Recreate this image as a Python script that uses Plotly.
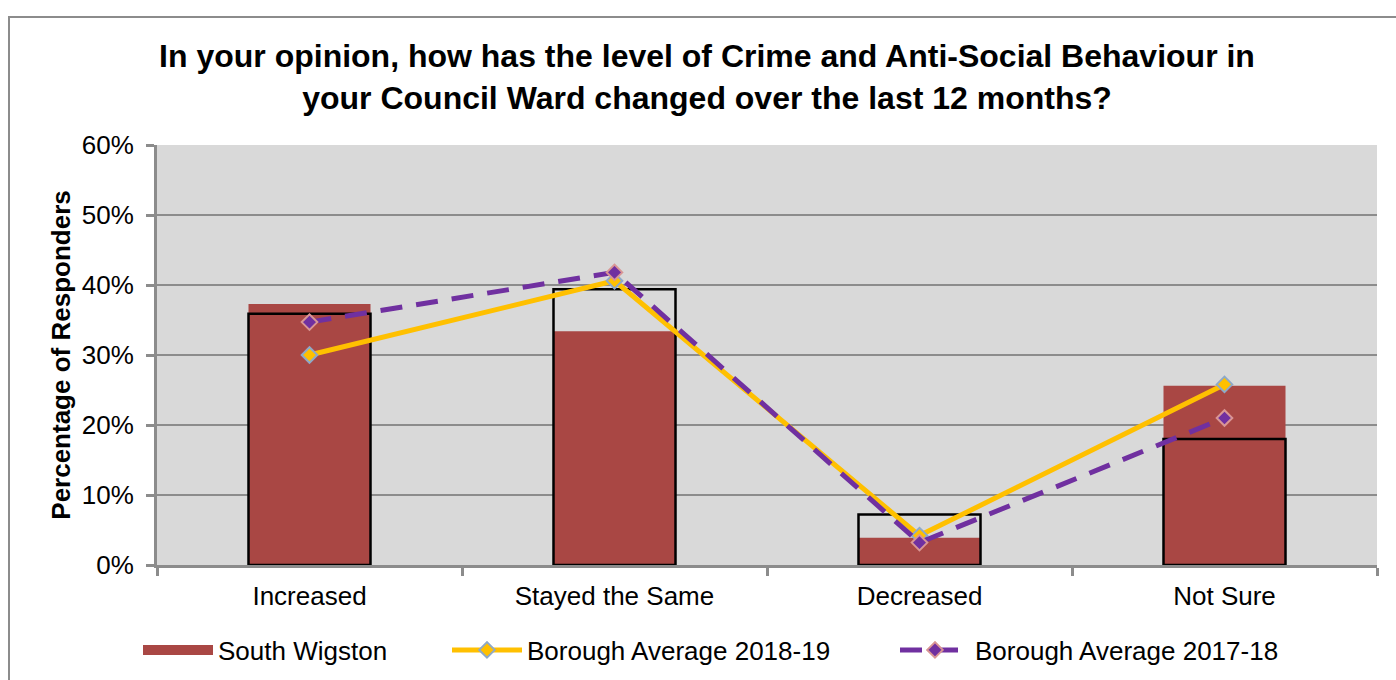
import plotly.graph_objects as go

categories = ["Increased", "Stayed the Same", "Decreased", "Not Sure"]
south_wigston = [37.3, 33.4, 3.9, 25.6]
south_wigston_prev = [35.9, 39.4, 7.2, 18.0]
borough_2018_19 = [30.0, 40.6, 4.2, 25.8]
borough_2017_18 = [34.7, 41.8, 3.2, 21.0]
y_ticks = [0, 10, 20, 30, 40, 50, 60]
y_tick_labels = [f"{v}%" for v in y_ticks]

FONT = "Liberation Sans, Arial, sans-serif"
RED = "#A94744"
W, H = 1396, 680
L, R, T, B = 157, 19, 145, 115
pw, ph = W - L - R, H - T - B

def px_x(p):
    return (p - L) / pw

def px_y(p):
    return (H - B - p) / ph

fig = go.Figure()
fig.add_trace(go.Bar(
    x=categories, y=south_wigston, name="South Wigston",
    marker=dict(color=RED, line=dict(width=0)), width=0.4,
    showlegend=False, legendgroup="sw",
))
fig.add_trace(go.Bar(
    x=categories, y=south_wigston_prev, name="South Wigston 2017-18",
    marker=dict(color="rgba(0,0,0,0)", line=dict(color="black", width=2.5)),
    width=0.4, showlegend=False,
))
# legend swatch for the South Wigston bars (wide rectangle, as in the original)
fig.add_trace(go.Scatter(
    x=[None], y=[None], name="South Wigston", mode="lines",
    line=dict(color=RED, width=14), legend="legend", legendgroup="sw",
    hoverinfo="skip",
))
fig.add_trace(go.Scatter(
    x=categories, y=borough_2018_19, name="Borough Average 2018-19",
    mode="lines+markers",
    line=dict(color="#FFC000", width=5),
    marker=dict(symbol="diamond", size=12, color="#FFC000",
                line=dict(color="#8EA9C8", width=2)),
    legend="legend2",
))
fig.add_trace(go.Scatter(
    x=categories, y=borough_2017_18, name="Borough Average 2017-18",
    mode="lines+markers",
    line=dict(color="#7030A0", width=5, dash="22px,14px"),
    marker=dict(symbol="diamond", size=12, color="#7030A0",
                line=dict(color="#D99594", width=2)),
    legend="legend3",
))

leg_common = dict(orientation="h", yanchor="middle", y=px_y(650), xanchor="left",
                  font=dict(family=FONT, size=26, color="black"),
                  itemwidth=70, bgcolor="rgba(0,0,0,0)")

fig.update_layout(
    width=W, height=H,
    margin=dict(l=L, r=R, t=T, b=B, autoexpand=False),
    paper_bgcolor="white",
    plot_bgcolor="#D9D9D9",
    barmode="overlay",
    title=dict(
        text="In your opinion, how has the level of Crime and Anti-Social Behaviour in<br>your Council Ward changed over the last 12 months?",
        font=dict(family=FONT, size=32, color="black", weight="bold"),
        x=707 / W, xanchor="center", xref="container",
        y=1 - 67 / H, yanchor="middle", yref="container",
    ),
    xaxis=dict(
        tickfont=dict(family=FONT, size=26, color="black"),
        showline=True, linecolor="#8C8C8C", linewidth=3,
        ticks="outside", tickson="boundaries", ticklen=8, tickwidth=3,
        tickcolor="#8C8C8C", showgrid=False, ticklabelstandoff=6,
    ),
    yaxis=dict(
        range=[0, 60], tickvals=y_ticks, ticktext=y_tick_labels,
        tickfont=dict(family=FONT, size=26, color="black"),
        showline=True, linecolor="#8C8C8C", linewidth=3,
        ticks="outside", ticklen=8, tickwidth=3, tickcolor="#8C8C8C",
        showgrid=True, gridcolor="#8C8C8C", gridwidth=2,
        zeroline=False, ticklabelstandoff=7,
        title=dict(text="<b>Percentage of Responders</b>",
                   font=dict(family=FONT, size=26, color="black"), standoff=4),
    ),
    legend=dict(leg_common, x=px_x(138)),
    legend2=dict(leg_common, x=px_x(447)),
    legend3=dict(leg_common, x=px_x(895)),
    shapes=[dict(type="rect", xref="paper", yref="paper",
                 x0=px_x(9), x1=px_x(1410), y0=px_y(700), y1=px_y(17),
                 line=dict(color="#8C8C8C", width=2), fillcolor="rgba(0,0,0,0)",
                 layer="below")],
)

fig.write_html("out.html", config={"displayModeBar": False},
               post_script="document.body.style.margin='0px';document.body.style.overflow='hidden';")
